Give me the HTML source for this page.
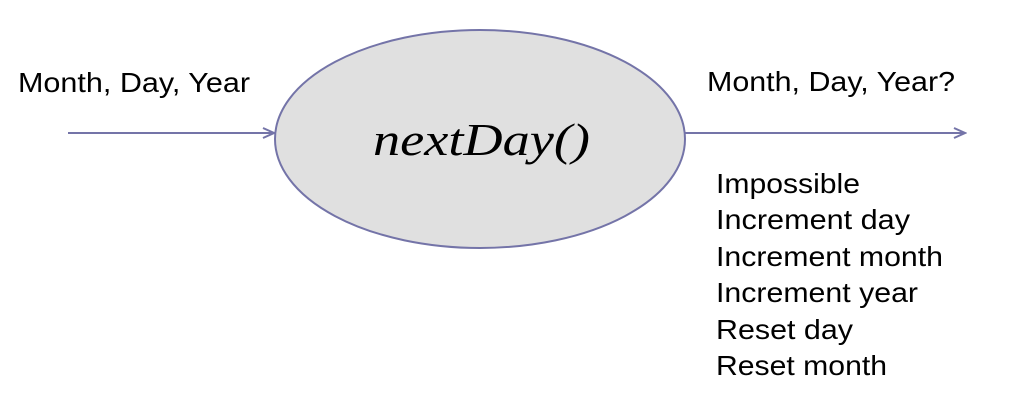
<!DOCTYPE html>
<html><head><style>
html,body{margin:0;padding:0;background:#fff;width:1014px;height:418px;overflow:hidden}
</style></head><body>
<svg width="1014" height="418" xmlns="http://www.w3.org/2000/svg">
<defs>
<marker id="a" markerWidth="14" markerHeight="12" refX="12" refY="6" orient="auto" markerUnits="userSpaceOnUse">
<path d="M1,1 L12,6 L1,11" fill="none" stroke="#7474a8" stroke-width="2"/>
</marker>
</defs>
<line x1="68" y1="133" x2="274" y2="133" stroke="#7474a8" stroke-width="2" marker-end="url(#a)"/>
<line x1="685" y1="133" x2="965" y2="133" stroke="#7474a8" stroke-width="2" marker-end="url(#a)"/>
<ellipse cx="480" cy="139" rx="205" ry="109" fill="#e0e0e0" stroke="#7474a8" stroke-width="2"/>
<g font-family="Liberation Sans, sans-serif" font-size="28" fill="#000" lengthAdjust="spacingAndGlyphs">
<text x="18" y="92" textLength="232" lengthAdjust="spacingAndGlyphs">Month, Day, Year</text>
<text x="707" y="91" textLength="248" lengthAdjust="spacingAndGlyphs">Month, Day, Year?</text>
<text x="716" y="193" textLength="144" lengthAdjust="spacingAndGlyphs">Impossible</text>
<text x="716" y="229" textLength="194" lengthAdjust="spacingAndGlyphs">Increment day</text>
<text x="716" y="266" textLength="227" lengthAdjust="spacingAndGlyphs">Increment month</text>
<text x="716" y="302" textLength="202" lengthAdjust="spacingAndGlyphs">Increment year</text>
<text x="716" y="339" textLength="137" lengthAdjust="spacingAndGlyphs">Reset day</text>
<text x="716" y="375" textLength="171" lengthAdjust="spacingAndGlyphs">Reset month</text>
</g>
<text x="373" y="155" textLength="217" lengthAdjust="spacingAndGlyphs" font-family="Liberation Serif, serif" font-style="italic" font-size="46">nextDay()</text>
</svg>
</body></html>
